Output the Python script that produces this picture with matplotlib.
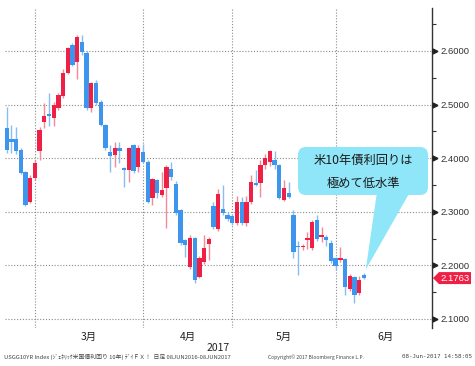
import matplotlib
matplotlib.use("Agg")
import matplotlib.pyplot as plt
from matplotlib.patches import FancyBboxPatch, Polygon
from matplotlib.transforms import blended_transform_factory
import numpy as np

# ---------------- data (daily candles, USGG10YR) ----------------
opens = [2.456, 2.436, 2.436, 2.415, 2.374, 2.318, 2.363, 2.413, 2.468, 2.482,
         2.475, 2.494, 2.515, 2.559, 2.611, 2.579, 2.617, 2.596, 2.494, 2.540,
         2.505, 2.462, 2.412, 2.406, 2.419, 2.382, 2.378, 2.425, 2.384, 2.412,
         2.393, 2.326, 2.359, 2.331, 2.344, 2.380, 2.352, 2.303, 2.247, 2.197,
         2.251, 2.178, 2.206, 2.240, 2.311, 2.268, 2.305, 2.294, 2.292, 2.279,
         2.318, 2.279, 2.318, 2.354, 2.354, 2.387, 2.393, 2.397, 2.387, 2.322,
         2.335, 2.294, 2.236, 2.234, 2.247, 2.232, 2.285, 2.253, 2.253, 2.242,
         2.213, 2.210, 2.212, 2.156, 2.178, 2.149, 2.182]
highs = [2.496, 2.462, 2.458, 2.418, 2.376, 2.368, 2.396, 2.458, 2.503, 2.522,
         2.505, 2.522, 2.567, 2.608, 2.614, 2.630, 2.630, 2.600, 2.542, 2.545,
         2.509, 2.464, 2.425, 2.430, 2.430, 2.384, 2.420, 2.427, 2.424, 2.427,
         2.396, 2.363, 2.362, 2.374, 2.388, 2.392, 2.358, 2.305, 2.249, 2.256,
         2.253, 2.218, 2.257, 2.252, 2.318, 2.342, 2.350, 2.300, 2.296, 2.330,
         2.328, 2.330, 2.368, 2.377, 2.396, 2.408, 2.415, 2.414, 2.389, 2.360,
         2.355, 2.303, 2.245, 2.240, 2.262, 2.285, 2.294, 2.272, 2.257, 2.247,
         2.215, 2.235, 2.214, 2.183, 2.180, 2.180, 2.186]
lows = [2.410, 2.410, 2.408, 2.370, 2.310, 2.316, 2.360, 2.397, 2.456, 2.460,
        2.460, 2.490, 2.512, 2.556, 2.572, 2.548, 2.593, 2.490, 2.486, 2.500,
        2.460, 2.416, 2.374, 2.383, 2.390, 2.346, 2.356, 2.372, 2.375, 2.390,
        2.316, 2.313, 2.325, 2.327, 2.270, 2.360, 2.294, 2.238, 2.216, 2.194,
        2.167, 2.177, 2.203, 2.210, 2.268, 2.265, 2.294, 2.283, 2.276, 2.276,
        2.276, 2.274, 2.315, 2.348, 2.328, 2.380, 2.385, 2.380, 2.323, 2.320,
        2.325, 2.214, 2.182, 2.228, 2.230, 2.228, 2.245, 2.243, 2.237, 2.205,
        2.192, 2.207, 2.145, 2.152, 2.130, 2.145, 2.174]
closes = [2.415, 2.430, 2.413, 2.372, 2.313, 2.363, 2.391, 2.453, 2.479, 2.479,
          2.499, 2.518, 2.559, 2.606, 2.574, 2.626, 2.598, 2.494, 2.540, 2.503,
          2.462, 2.419, 2.404, 2.419, 2.414, 2.378, 2.419, 2.376, 2.419, 2.393,
          2.318, 2.361, 2.335, 2.341, 2.384, 2.365, 2.298, 2.242, 2.238, 2.251,
          2.173, 2.214, 2.232, 2.249, 2.272, 2.333, 2.298, 2.287, 2.279, 2.318,
          2.279, 2.318, 2.356, 2.350, 2.387, 2.400, 2.413, 2.387, 2.326, 2.344,
          2.328, 2.225, 2.234, 2.236, 2.251, 2.281, 2.249, 2.257, 2.247, 2.209,
          2.198, 2.212, 2.160, 2.180, 2.145, 2.173, 2.1763]

month_bounds = [6, 29, 48, 70]
month_labels = ["3月", "4月", "5月", "6月"]
month_label_pos = [17.5, 38.5, 59, 80.5]
year_label = "2017"
year_label_pos = 45
y_ticks = [2.1, 2.2, 2.3, 2.4, 2.5, 2.6]
y_minor = [2.15, 2.25, 2.35, 2.45, 2.55, 2.65]
last_label = "2.1763"
callout_lines = ["米10年債利回りは", "極めて低水準"]
footer_left = "USGG10YR Index (ｼﾞｪﾈﾘｯｸ米国債利回り 10年) ﾃﾞｲＦＸ！  日足 08JUN2016-08JUN2017"
footer_mid = "Copyright© 2017 Bloomberg Finance L.P."
footer_right = "08-Jun-2017 14:58:05"

# ---------------- style ----------------
RED = "#EE2045"
BLUE = "#3D95EE"
RED_WICK = "#F4899C"
BLUE_WICK = "#86BDF2"
CYAN = "#8EE6F8"
CJK = ["Noto Sans CJK JP", "DejaVu Sans"]

W, H = 475, 366
fig = plt.figure(figsize=(W / 100, H / 100), dpi=100)
ax = fig.add_axes([5 / W, (H - 328) / H, 427 / W, 320 / H])

o = np.array(opens); c = np.array(closes)
hi = np.array(highs); lo = np.array(lows)
x = np.arange(len(o))
up = c >= o
bot = np.minimum(o, c)
bh = np.maximum(np.abs(c - o), 0.003)

ax.vlines(x[up], lo[up], hi[up], color=RED_WICK, lw=1.0, zorder=2)
ax.vlines(x[~up], lo[~up], hi[~up], color=BLUE_WICK, lw=1.0, zorder=2)
ax.bar(x[up], bh[up], bottom=bot[up], width=0.92, color=RED, lw=0, zorder=3)
ax.bar(x[~up], bh[~up], bottom=bot[~up], width=0.92, color=BLUE, lw=0, zorder=3)

ax.set_xlim(-0.36, 90.5)
ax.set_ylim(2.0832, 2.680)

# grid
gkw = dict(color="#8a8a8a", lw=0.8, ls=(0, (1, 1.6)), zorder=1)
for yv in y_ticks:
    ax.axhline(yv, **gkw)
for xv in month_bounds:
    ax.axvline(xv, **gkw)

# spines
for s in ["left", "top", "bottom"]:
    ax.spines[s].set_visible(False)
ax.spines["right"].set_color("#333333")
ax.spines["right"].set_linewidth(1.0)

ax.yaxis.tick_right()
ax.set_yticks(y_ticks)
ax.set_yticklabels([f"{v:.4f}" for v in y_ticks], fontsize=6.8,
                   family=["Liberation Sans", "DejaVu Sans"], color="#333333")
ax.set_yticks(y_minor, minor=True)
ax.tick_params(axis="y", which="major", length=0, pad=6)
ax.tick_params(axis="y", which="minor", length=3, color="#333333", width=0.8)
btf = blended_transform_factory(ax.transAxes, ax.transData)
ax.plot([1.006] * len(y_ticks), y_ticks, ">", ms=3.5, color="#222222",
        transform=btf, clip_on=False, zorder=5)

ax.set_xticks([])
xtf = blended_transform_factory(ax.transData, ax.transAxes)
for pos, lab in zip(month_label_pos, month_labels):
    ax.text(pos, -0.028, lab, transform=xtf,
            ha="center", va="center", fontsize=7.5, family=CJK, color="#222222")
ax.text(year_label_pos, -0.062, year_label, transform=xtf,
        ha="center", va="center", fontsize=7.5, family=CJK, color="#222222")

# ---------------- overlay in pixel coordinates ----------------
oax = fig.add_axes([0, 0, 1, 1], zorder=10)
oax.set_xlim(0, W)
oax.set_ylim(H, 0)
oax.axis("off")
oax.patch.set_alpha(0)


def to_px(xd, yd):
    d = ax.transData.transform((xd, yd))
    return d[0], H - d[1]


# callout
tipx, tipy = to_px(len(c) - 1 + 0.4, hi[-1] + 0.006)
oax.add_patch(Polygon([(377, 192), (410, 192), (tipx, tipy)], closed=True,
                      facecolor=CYAN, edgecolor="none", zorder=1))
oax.add_patch(FancyBboxPatch((298, 147), 130, 48,
                             boxstyle="round,pad=0,rounding_size=8",
                             facecolor=CYAN, edgecolor="none", zorder=2))
oax.text(363, 160, callout_lines[0], ha="center", va="center", fontsize=8.8,
         family=CJK, color="#1a1a1a", zorder=3)
oax.text(363, 183, callout_lines[1], ha="center", va="center", fontsize=8.8,
         family=CJK, color="#1a1a1a", zorder=3)

# last value tag
_, ty = to_px(0, c[-1])
oax.add_patch(Polygon([(433, ty), (439, ty - 6), (471, ty - 6), (471, ty + 6), (439, ty + 6)],
                      closed=True, facecolor=RED, edgecolor="none"))
oax.text(455, ty + 0.5, last_label, ha="center", va="center", fontsize=6.8,
         family=["Liberation Sans", "DejaVu Sans"], color="white")

# footer
fkw = dict(family=CJK, color="#444444", va="center")
oax.text(4, 357, footer_left, ha="left", fontsize=4.2, **fkw)
oax.text(268, 357, footer_mid, ha="left", fontsize=3.6, **fkw)
oax.text(472, 357, footer_right, ha="right", fontsize=4.2,
         family=["DejaVu Sans Mono"], color="#444444", va="center")

fig.savefig("out.png", dpi=100)
